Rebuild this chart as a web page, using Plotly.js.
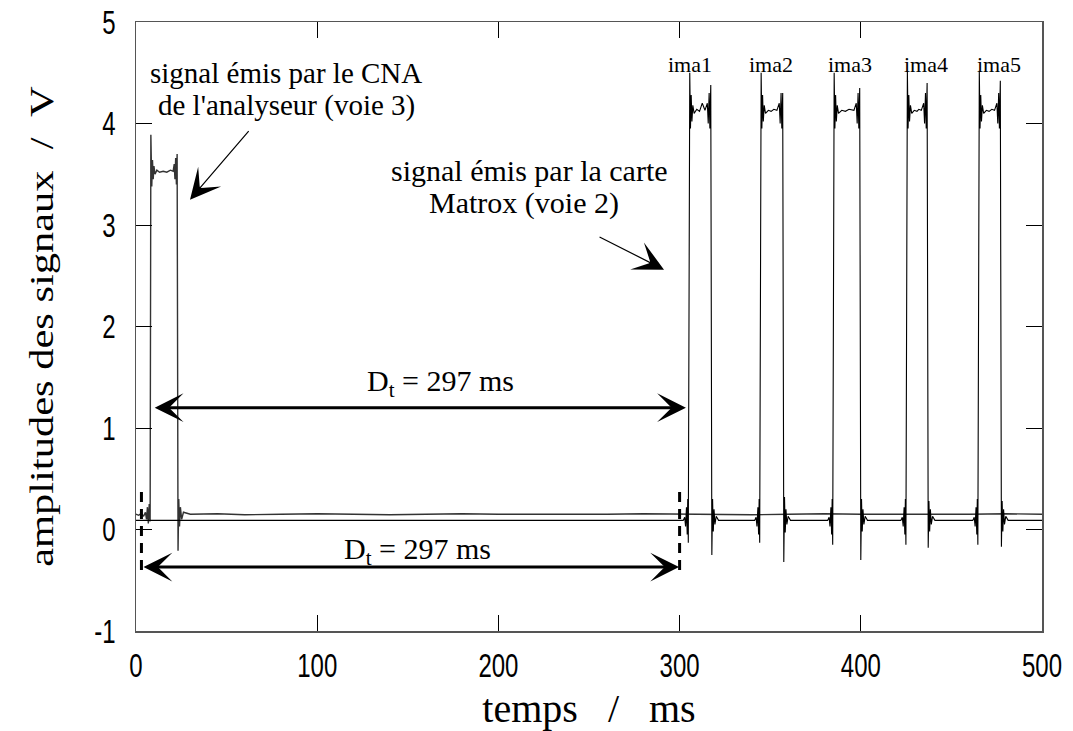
<!DOCTYPE html>
<html>
<head>
<meta charset="utf-8">
<script src="https://cdn.plot.ly/plotly-3.0.1.min.js"></script>
<style>html,body{margin:0;padding:0;background:#fff;}#chart{width:1073px;height:731px;}</style>
</head>
<body>
<div id="chart"></div>
<script>
// Signal émis par le CNA de l'analyseur (voie 3)
var cnaT = [0, 1.5, 3, 4.2, 5.2, 5.8, 6.3, 6.8, 7.3, 7.8, 8.2, 8.7, 9.1, 9.5, 9.9, 10.5, 11.5, 13, 15, 17, 19, 20.5, 21.1, 21.5, 21.9, 22.3, 22.7, 23.2, 23.6, 24.0, 24.5, 25.2, 26.2, 30, 45, 60, 80, 100, 120, 140, 160, 180, 200, 220, 240, 260, 280, 300, 320, 340, 360, 380, 400, 420, 440, 460, 480, 500];
var cnaV = [0.15, 0.14, 0.16, 0.13, 0.17, 0.1, 0.22, 0.06, 0.25, 0.08, 3.89, 3.38, 3.64, 3.45, 3.58, 3.5, 3.54, 3.52, 3.53, 3.52, 3.54, 3.53, 3.6, 3.45, 3.66, 3.4, 3.7, -0.21, 0.3, 0.03, 0.22, 0.1, 0.17, 0.15, 0.155, 0.145, 0.15, 0.155, 0.15, 0.145, 0.15, 0.155, 0.15, 0.15, 0.145, 0.15, 0.155, 0.15, 0.15, 0.145, 0.15, 0.155, 0.15, 0.15, 0.145, 0.15, 0.155, 0.15];

// Signal émis par la carte Matrox (voie 2) : ligne de base puis cinq impulsions (ima1..ima5)
var matroxBaseT = [0, 100, 200];
var matroxBaseV = [0.09, 0.09, 0.09];
var pulse1T = [302.0, 302.8, 303.3, 303.8, 304.2, 304.5, 304.8, 305.6, 306.0, 306.4, 306.8, 307.3, 308.0, 309.5, 311.0, 312.5, 314.0, 315.3, 315.8, 316.3, 316.7, 317.2, 317.8, 318.2, 318.6, 319.0, 319.5, 320.2, 321.5];
var pulse1V = [0.09, 0.12, 0.03, 0.22, -0.05, 0.3, -0.13, 4.5, 3.95, 4.28, 4.02, 4.18, 4.1, 4.14, 4.12, 4.2, 4.13, 4.2, 4.0, 4.3, 3.95, 4.38, -0.25, 0.3, -0.02, 0.2, 0.05, 0.13, 0.09];
var pulse2T = [341.4, 342.2, 342.7, 343.2, 343.6, 343.9, 344.2, 345.0, 345.4, 345.8, 346.2, 346.7, 347.4, 349.0, 350.5, 352.0, 353.7, 355.0, 355.5, 356.0, 356.4, 356.9, 357.5, 357.9, 358.3, 358.7, 359.2, 359.9, 361.2];
var pulse2V = [0.09, 0.12, 0.03, 0.22, -0.05, 0.3, -0.13, 4.5, 3.95, 4.28, 4.02, 4.18, 4.1, 4.13, 4.12, 4.14, 4.13, 4.2, 4.0, 4.3, 3.95, 4.3, -0.32, 0.32, -0.03, 0.2, 0.05, 0.13, 0.09];
var pulse3T = [381.7, 382.5, 383.0, 383.5, 383.9, 384.2, 384.5, 385.3, 385.7, 386.1, 386.5, 387.0, 387.7, 389.5, 391.5, 393.5, 396.2, 397.5, 398.0, 398.5, 398.9, 399.4, 400.0, 400.4, 400.8, 401.2, 401.7, 402.4, 403.7];
var pulse3V = [0.09, 0.12, 0.03, 0.22, -0.05, 0.3, -0.15, 4.5, 3.95, 4.28, 4.02, 4.18, 4.1, 4.13, 4.12, 4.14, 4.13, 4.2, 4.0, 4.3, 3.95, 4.35, -0.3, 0.3, -0.02, 0.2, 0.05, 0.13, 0.09];
var pulse4T = [422.1, 422.9, 423.4, 423.9, 424.3, 424.6, 424.9, 425.7, 426.1, 426.5, 426.9, 427.4, 428.1, 429.5, 431.0, 432.0, 433.4, 434.7, 435.2, 435.7, 436.1, 436.6, 437.2, 437.6, 438.0, 438.4, 438.9, 439.6, 440.9];
var pulse4V = [0.09, 0.12, 0.03, 0.22, -0.05, 0.3, -0.15, 4.52, 3.95, 4.28, 4.02, 4.18, 4.1, 4.13, 4.12, 4.14, 4.13, 4.2, 4.0, 4.3, 3.95, 4.4, -0.18, 0.28, -0.02, 0.2, 0.05, 0.13, 0.09];
var pulse5T = [461.8, 462.6, 463.1, 463.6, 464.0, 464.3, 464.6, 465.4, 465.8, 466.2, 466.6, 467.1, 467.8, 469.3, 470.8, 472.3, 473.8, 475.1, 475.6, 476.1, 476.5, 477.0, 477.6, 478.0, 478.4, 478.8, 479.3, 480.0, 481.3];
var pulse5V = [0.09, 0.12, 0.03, 0.22, -0.05, 0.3, -0.15, 4.52, 3.95, 4.28, 4.02, 4.18, 4.1, 4.13, 4.12, 4.14, 4.13, 4.2, 4.0, 4.3, 3.95, 4.42, -0.17, 0.28, -0.02, 0.2, 0.05, 0.13, 0.09];
var matroxEndT = [500];
var matroxEndV = [0.09];

var imageLabels = ['ima1', 'ima2', 'ima3', 'ima4', 'ima5'];
var imageLabelT = [305.7, 350.4, 394.0, 436.0, 476.3];
var delayLabel = 'D<sub>t</sub> = 297 ms';
var markerT = [3, 300];
var yTickVals = [-1, 0, 1, 2, 3, 4, 5];
var yTickText = ['-1', '0', '1', '2', '3', '4', '5'];

var matroxT = [].concat(matroxBaseT, pulse1T, pulse2T, pulse3T, pulse4T, pulse5T, matroxEndT);
var matroxV = [].concat(matroxBaseV, pulse1V, pulse2V, pulse3V, pulse4V, pulse5V, matroxEndV);

var serif = 'Liberation Serif, Times New Roman, serif';
var sans = 'Liberation Sans, Arial, sans-serif';

var traces = [
  {x: cnaT, y: cnaV, type: 'scatter', mode: 'lines', line: {color: '#333', width: 1.4}, hoverinfo: 'skip'},
  {x: matroxT, y: matroxV, type: 'scatter', mode: 'lines', line: {color: '#000', width: 1.1}, hoverinfo: 'skip'}
];

var annotations = [];
imageLabels.forEach(function (lab, i) {
  annotations.push({x: imageLabelT[i], y: 4.58, xref: 'x', yref: 'y', text: lab, showarrow: false,
    xanchor: 'center', yanchor: 'middle', font: {family: serif, size: 22, color: '#000'}});
});
annotations.push(
  {x: 82.8, y: 4.5, xref: 'x', yref: 'y', text: 'signal émis par le CNA', showarrow: false, xanchor: 'center', yanchor: 'middle', font: {family: serif, size: 29, color: '#000'}},
  {x: 82.8, y: 4.18, xref: 'x', yref: 'y', text: "de l'analyseur (voie 3)", showarrow: false, xanchor: 'center', yanchor: 'middle', font: {family: serif, size: 29, color: '#000'}},
  {x: 217.4, y: 3.54, xref: 'x', yref: 'y', text: 'signal émis par la carte', showarrow: false, xanchor: 'center', yanchor: 'middle', font: {family: serif, size: 30, color: '#000'}},
  {x: 214, y: 3.22, xref: 'x', yref: 'y', text: 'Matrox (voie 2)', showarrow: false, xanchor: 'center', yanchor: 'middle', font: {family: serif, size: 30, color: '#000'}},
  {x: 168, y: 1.44, xref: 'x', yref: 'y', text: delayLabel, showarrow: false, xanchor: 'center', yanchor: 'middle', font: {family: serif, size: 30, color: '#000'}},
  {x: 155.6, y: -0.21, xref: 'x', yref: 'y', text: delayLabel, showarrow: false, xanchor: 'center', yanchor: 'middle', font: {family: serif, size: 30, color: '#000'}},
  // pointer arrows
  {x: 29.8, y: 3.25, ax: 62.9, ay: 3.94, xref: 'x', yref: 'y', axref: 'x', ayref: 'y', text: '', showarrow: true, arrowhead: 3, arrowsize: 4.2, arrowwidth: 1.2, arrowcolor: '#000'},
  {x: 291.4, y: 2.56, ax: 255, ay: 2.89, xref: 'x', yref: 'y', axref: 'x', ayref: 'y', text: '', showarrow: true, arrowhead: 3, arrowsize: 4.2, arrowwidth: 1.2, arrowcolor: '#000'},
  // double arrows for the delay
  {x: 303.5, y: 1.2, ax: 9.5, ay: 1.2, xref: 'x', yref: 'y', axref: 'x', ayref: 'y', text: '', showarrow: true, arrowside: 'end+start', arrowhead: 3, startarrowhead: 3, arrowsize: 1.6, startarrowsize: 1.6, arrowwidth: 3, arrowcolor: '#000'},
  {x: markerT[1] - 0.3, y: -0.37, ax: markerT[0] + 0.3, ay: -0.37, xref: 'x', yref: 'y', axref: 'x', ayref: 'y', text: '', showarrow: true, arrowside: 'end+start', arrowhead: 3, startarrowhead: 3, arrowsize: 1.6, startarrowsize: 1.6, arrowwidth: 3, arrowcolor: '#000'}
);

var shapes = markerT.map(function (t) {
  return {type: 'line', xref: 'x', yref: 'y', x0: t, x1: t, y0: 0.37, y1: -0.4,
    line: {color: '#000', width: 3, dash: '10px,7px'}};
});

var layout = {
  width: 1073, height: 731,
  margin: {l: 136, r: 31, t: 22, b: 100},
  paper_bgcolor: '#fff', plot_bgcolor: '#fff',
  showlegend: false,
  xaxis: {
    range: [0, 500], dtick: 100, tick0: 0, ticks: 'inside', ticklen: 16, tickwidth: 1, tickcolor: '#000',
    showline: true, linecolor: '#555', linewidth: 1.5, mirror: 'ticks', showgrid: false, zeroline: false,
    tickfont: {family: sans, size: 24, color: '#000'}, ticklabelstandoff: 12,
    title: {text: 'temps   /   ms', font: {family: serif, size: 40, color: '#000'}, standoff: 18}
  },
  yaxis: {
    range: [-1, 5], tickmode: 'array', tickvals: yTickVals, ticktext: yTickText,
    ticks: 'inside', ticklen: 16, tickwidth: 1, tickcolor: '#000',
    showline: true, linecolor: '#555', linewidth: 1.5, mirror: 'ticks', showgrid: false, zeroline: false,
    tickfont: {family: sans, size: 24, color: '#000'}, ticklabelstandoff: 14,
    title: {text: 'amplitudes des signaux  /  V', font: {family: serif, size: 34, color: '#000'}, standoff: 30}
  },
  annotations: annotations,
  shapes: shapes
};

Plotly.newPlot('chart', traces, layout, {staticPlot: true, displayModeBar: false}).then(function (gd) {
  // the reference draws its axis labels with a tall, narrow look
  function stretch(sel, sx, sy) {
    gd.querySelectorAll(sel).forEach(function (el) {
      var bb = el.getBBox();
      var cx = bb.x + bb.width / 2, cy = bb.y + bb.height / 2;
      var tr = el.getAttribute('transform') || '';
      el.setAttribute('transform', tr + ' translate(' + cx + ',' + cy + ') scale(' + sx + ',' + sy + ') translate(' + (-cx) + ',' + (-cy) + ')');
    });
  }
  stretch('.xtick text', 1, 1.4);
  stretch('.ytick text', 1, 1.4);
  stretch('.g-ytitle text', 1.25, 1);
});
</script>
</body>
</html>
